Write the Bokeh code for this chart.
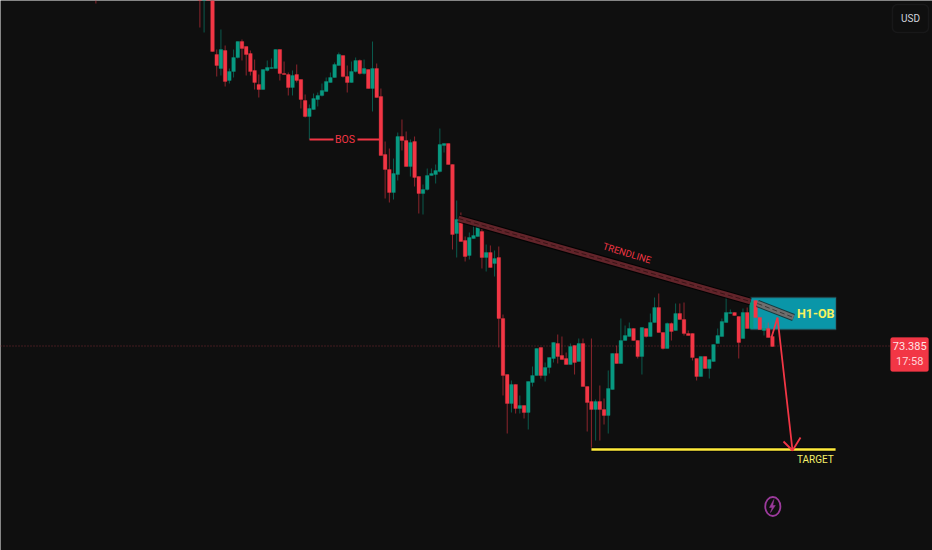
from bokeh.plotting import figure
from bokeh.models import BoxAnnotation, ColumnDataSource
from bokeh.core.properties import value
from bokeh.embed import file_html
from bokeh.resources import INLINE

# Candles start at bar -3
opens = [77.3,77.0,77.0,
76.95,76.30,76.16,76.34,76.04,76.13,76.27,76.43,76.38,76.31,
76.14,76.00,75.95,76.14,76.16,76.16,76.35,76.11,76.10,75.97,
76.10,76.05,75.84,75.68,75.75,75.85,75.89,75.93,76.02,76.07,
76.19,76.29,76.08,76.02,76.13,76.24,76.11,76.15,75.96,76.16,
75.88,75.30,75.15,74.92,75.10,75.48,75.44,75.18,75.43,75.08,
74.91,74.95,75.09,75.10,75.13,75.39,75.41,75.20,74.51,74.65,
74.44,74.29,74.46,74.48,74.53,74.27,74.32,74.21,74.27,73.66,
73.10,72.81,73.00,72.76,72.79,72.72,73.02,73.09,73.37,73.09,
73.17,73.26,73.41,73.29,73.26,73.20,73.39,73.23,73.41,72.98,
72.83,72.75,72.83,72.75,72.69,72.95,73.31,73.21,73.44,73.48,
73.56,73.44,73.28,73.56,73.48,73.62,73.77,73.52,73.36,73.61,
73.54,73.71,73.65,73.51,73.51,73.26,73.08,73.28,73.16,73.23,
73.41,73.48,73.62,73.71,73.72,73.68,73.46,73.72,73.56,73.84,
73.67,73.54,73.56,73.48]
closes = [77.1,77.2,76.9,
76.33,76.19,76.35,76.03,76.13,76.27,76.43,76.36,76.30,76.13,
76.02,75.95,76.15,76.17,76.17,76.35,76.11,76.10,75.97,76.09,
76.04,75.85,75.68,75.76,75.86,75.89,75.94,76.03,76.07,76.20,
76.30,76.08,76.02,76.13,76.24,76.11,76.16,75.96,76.16,75.87,
75.29,75.15,74.92,75.11,75.48,75.44,75.18,75.42,75.07,74.91,
74.95,75.09,75.11,75.14,75.40,75.41,75.20,74.50,74.65,74.43,
74.28,74.47,74.49,74.58,74.27,74.32,74.17,74.26,73.66,73.09,
72.81,73.00,72.76,72.79,72.72,73.03,73.09,73.36,73.09,73.17,
73.27,73.42,73.28,73.25,73.20,73.38,73.22,73.41,72.98,72.82,
72.75,72.83,72.75,72.69,72.96,73.31,73.21,73.44,73.49,73.56,
73.44,73.28,73.57,73.48,73.62,73.77,73.52,73.36,73.61,73.53,
73.71,73.65,73.51,73.49,73.27,73.08,73.28,73.16,73.25,73.40,
73.49,73.63,73.72,73.72,73.69,73.42,73.72,73.56,73.83,73.67,
73.55,73.56,73.47,73.38]
highs = [77.4,77.3,77.1,
77.0,76.35,76.55,76.39,76.16,76.35,76.43,76.45,76.38,76.34,
76.25,76.10,76.15,76.24,76.26,76.35,76.35,76.23,76.12,76.14,
76.20,76.05,75.90,75.80,75.91,75.92,76.01,76.07,76.12,76.22,
76.32,76.29,76.19,76.23,76.27,76.25,76.25,76.15,76.43,76.21,
75.96,75.43,75.36,75.26,75.52,75.65,75.53,75.45,75.48,75.08,
75.00,75.16,75.16,75.20,75.56,75.41,75.41,75.20,74.84,74.72,
74.48,74.52,74.61,74.61,74.56,74.40,74.39,74.34,74.38,73.70,
73.10,73.04,73.00,72.89,72.79,73.03,73.18,73.36,73.37,73.22,
73.27,73.42,73.50,73.48,73.32,73.41,73.39,73.46,73.46,72.98,
73.46,72.85,72.99,72.86,73.14,73.31,73.39,73.66,73.59,73.62,
73.56,73.44,73.57,73.56,73.71,73.87,73.91,73.52,73.62,73.62,
73.81,73.81,73.82,73.54,73.51,73.26,73.28,73.28,73.25,73.40,
73.56,73.66,73.90,73.75,73.72,73.68,73.76,73.77,73.83,73.84,
73.67,73.62,73.62,73.48]
lows = [76.57,76.52,76.9,
76.33,76.08,76.09,75.98,76.01,76.07,76.26,76.24,76.09,76.09,
75.95,75.87,75.95,76.13,76.16,76.16,76.04,76.10,75.89,75.89,
76.02,75.76,75.67,75.45,75.75,75.78,75.88,75.93,76.02,76.07,
76.19,76.07,75.92,76.02,76.12,76.10,76.10,75.96,75.73,75.87,
75.29,74.86,74.82,74.85,75.04,75.34,75.18,75.08,74.98,74.71,
74.70,74.94,75.09,75.01,75.12,75.32,75.20,74.35,74.27,74.43,
74.23,74.25,74.46,74.48,74.16,74.13,74.17,74.08,73.37,72.89,
72.51,72.72,72.71,72.71,72.66,72.55,72.98,73.09,73.06,73.03,
73.11,73.22,73.21,73.25,73.20,73.20,73.10,73.23,72.98,72.53,
72.36,72.44,72.44,72.60,72.51,72.95,73.21,73.21,73.44,73.48,
73.44,73.26,73.10,73.47,73.48,73.62,73.52,73.35,73.36,73.44,
73.54,73.65,73.49,73.49,73.24,73.04,73.08,73.16,73.06,73.23,
73.41,73.48,73.62,73.71,73.69,73.26,73.46,73.56,73.56,73.67,
73.55,73.49,73.47,73.38]

# Lone wick that just enters the picture at the top left
early_x = [-27.7]
early_high = [77.0]
early_low = [76.81]

last_price = 73.385
price_text = "73.385"
countdown_text = "17:58"
currency_text = "USD"

trend_x = [58.43, 127.79]
trend_y = [74.66, 73.83]
ob_line_x = [129.45, 138.0]
ob_line_y = [73.81, 73.67]
arrow_x = [132.78, 134.2, 137.77]
arrow_y = [73.47, 73.67, 72.34]
head_x = [135.63, 137.77, 139.67]
head_y = [72.43, 72.34, 72.47]
target_x = [90.0, 148.0]
target_y = [72.35, 72.35]
bolt_x = [133.33, 132.3, 132.94, 132.54, 133.68, 133.09]
bolt_y = [71.85, 71.77, 71.77, 71.72, 71.79, 71.79]

RED = "#f23645"
GREEN = "#089981"
BG = "#0f0f0f"
FONT = value("Roboto")
X0, X1 = -50.36, 171.02
Y0, Y1 = 71.34, 76.84

x = list(range(-3, len(opens) - 3))
body_col = [GREEN if c >= o else RED for o, c in zip(opens, closes)]
src = ColumnDataSource(dict(x=x, top=[max(a, b) for a, b in zip(opens, closes)],
                            bottom=[min(a, b) for a, b in zip(opens, closes)],
                            high=highs, low=lows, color=body_col))

p = figure(width=932, height=550, x_range=(X0, X1), y_range=(Y0, Y1),
           x_axis_location=None, y_axis_location=None, toolbar_location=None,
           output_backend="svg", min_border=0, background_fill_color=BG,
           border_fill_color=BG, outline_line_color=None)
p.grid.visible = False

p.add_layout(BoxAnnotation(left=127.79, right=148.1, top=73.87, bottom=73.55,
                           fill_color="#0a96a8", fill_alpha=1,
                           line_color="#3c4246", line_width=2, level="underlay"))
p.line([X0, 160.8], [last_price, last_price], line_color="#7a2a30",
       line_width=1, line_dash="1 2", level="underlay")

p.segment(early_x, early_high, early_x, early_low, line_color=RED, line_alpha=0.55, line_width=1)
p.segment("x", "high", "x", "low", source=src, line_color="color", line_alpha=0.55, line_width=1)
p.vbar(x="x", top="top", bottom="bottom", width=0.86, source=src,
       fill_color="color", line_color="color", line_width=0.3)

p.line(trend_x, trend_y, line_color="#000000", line_width=8, line_alpha=0.8)
p.line(trend_x, trend_y, line_color="#62242a", line_width=5.5)
p.line(trend_x, trend_y, line_color="#3a1417", line_width=1, line_dash="5 3")

p.line(ob_line_x, ob_line_y, line_color="#1a2a2c", line_width=7.5, line_alpha=0.85)
p.line(ob_line_x, ob_line_y, line_color="#6e6e6e", line_width=5.5)
p.line(ob_line_x, ob_line_y, line_color="#3a3a3a", line_width=1, line_dash="5 3")

p.line(target_x, target_y, line_color="#000000", line_width=4.5, line_alpha=0.7)
p.line(target_x, target_y, line_color="#ffeb3b", line_width=2.4)

p.line(arrow_x, arrow_y, line_color=RED, line_width=1.8)
p.line(head_x, head_y, line_color=RED, line_width=1.8)

p.line([23.04, 28.74], [75.45, 75.45], line_color=RED, line_width=2)
p.line([34.44, 39.67], [75.45, 75.45], line_color=RED, line_width=2)
p.text([31.47], [75.45], text=["BOS"], text_color=RED, text_font=FONT, text_font_size="10.5px",
       text_align="center", text_baseline="middle")
p.text([98.46], [74.315], text=["TRENDLINE"], text_color=RED, text_font=FONT,
       text_font_size="9.5px", text_align="center", text_baseline="middle", angle=-0.30)
p.text([143.3], [73.71], text=["H1-OB"], text_color="#f7f25e", text_font=FONT,
       text_font_style="bold", text_font_size="12.5px", text_align="center", text_baseline="middle")
p.text([143.2], [72.25], text=["TARGET"], text_color="#f5f06b", text_font=FONT,
       text_font_size="10px", text_align="center", text_baseline="middle")

p.add_layout(BoxAnnotation(left=161.06, right=170.08, top=73.47, bottom=73.13,
                           fill_color=RED, fill_alpha=1, line_color=RED, border_radius=2,
                           level="underlay"))
p.text([165.6], [73.385], text=[price_text], text_color="#ffe4e6", text_font=FONT,
       text_font_size="11px", text_align="center", text_baseline="middle")
p.text([165.6], [73.23], text=[countdown_text], text_color="#ffd5d8", text_font=FONT,
       text_font_size="11px", text_align="center", text_baseline="middle")

p.add_layout(BoxAnnotation(left=161.5, right=170.08, top=76.80, bottom=76.52,
                           fill_alpha=0, line_color="#2e3033", line_width=1.5, border_radius=5))
p.text([165.8], [76.66], text=[currency_text], text_color="#d1d4dc", text_font=FONT,
       text_font_size="10px", text_align="center", text_baseline="middle")

p.ellipse([133.09], [71.78], width=3.6, height=0.19, fill_alpha=0, line_color="#9c3a9c", line_width=1.8)
p.patch(bolt_x, bolt_y, fill_color="#9c3a9c", line_color="#9c3a9c", line_width=0.5)

open("out.html", "w").write(file_html(p, INLINE))
